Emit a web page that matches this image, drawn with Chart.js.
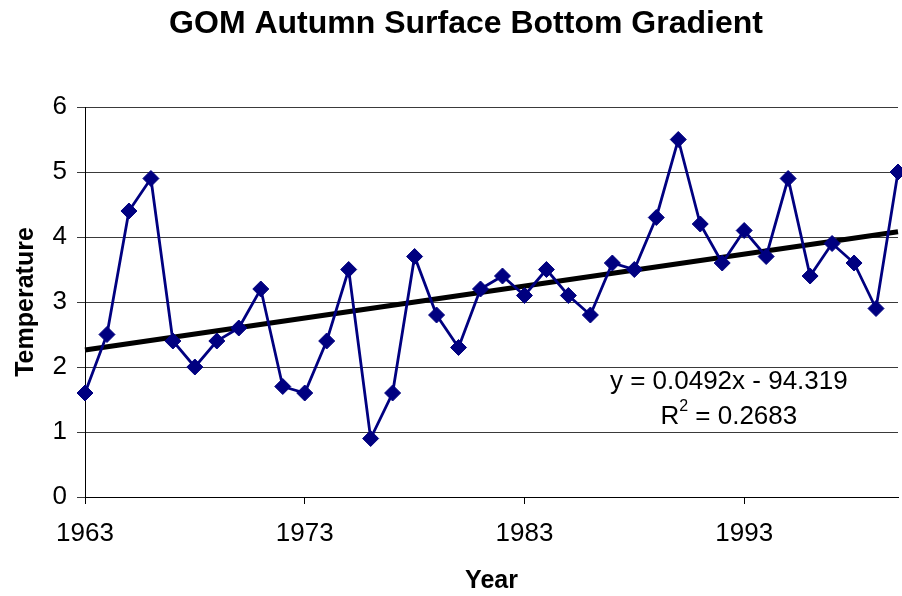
<!DOCTYPE html>
<html>
<head>
<meta charset="utf-8">
<title>GOM Autumn Surface Bottom Gradient</title>
<script src="https://cdn.jsdelivr.net/npm/chart.js@4/dist/chart.umd.min.js"></script>
<style>
  html, body { margin: 0; padding: 0; background: #ffffff; }
  #wrap { width: 902px; height: 596px; }
  canvas { display: block; }
</style>
</head>
<body>
<div id="wrap"><canvas id="chart" width="902" height="596"></canvas></div>
<script>
// Survey years and the autumn surface-minus-bottom temperature gradient
const years = [1963, 1964, 1965, 1966, 1967, 1968, 1969, 1970, 1971, 1972,
               1973, 1974, 1975, 1976, 1977, 1978, 1979, 1980, 1981, 1982,
               1983, 1984, 1985, 1986, 1987, 1988, 1989, 1990, 1991, 1992,
               1993, 1994, 1995, 1996, 1997, 1998, 1999, 2000];
const gradient = [1.6, 2.5, 4.4, 4.9, 2.4, 2.0, 2.4, 2.6, 3.2, 1.7,
                  1.6, 2.4, 3.5, 0.9, 1.6, 3.7, 2.8, 2.3, 3.2, 3.4,
                  3.1, 3.5, 3.1, 2.8, 3.6, 3.5, 4.3, 5.5, 4.2, 3.6,
                  4.1, 3.7, 4.9, 3.4, 3.9, 3.6, 2.9, 5.0];

// Linear trend as reported: y = 0.0492x - 94.319, R^2 = 0.2683
const trendSlope = 0.0492;
const trendIntercept = -94.319;
const trendR2 = '0.2683';

// Axis ticks
const xTickYears = [1963, 1973, 1983, 1993];
const yTickValues = [0, 1, 2, 3, 4, 5, 6];

const chartTitle = 'GOM Autumn Surface Bottom Gradient';
const xAxisTitle = 'Year';
const yAxisTitle = 'Temperature';

const FONT = "'Liberation Sans', Arial, Helvetica, sans-serif";

const seriesPoints = years.map((yr, i) => ({ x: yr, y: gradient[i] }));
const trendStart = years[0];
const trendEnd = years[years.length - 1];
const trendPoints = [
  { x: trendStart, y: trendSlope * trendStart + trendIntercept },
  { x: trendEnd,   y: trendSlope * trendEnd + trendIntercept }
];

// Chart heading, drawn above the plot
const headingPlugin = {
  id: 'heading',
  afterDraw(chart, args, opts) {
    const ctx = chart.ctx;
    ctx.save();
    ctx.fillStyle = '#000';
    ctx.font = 'bold ' + opts.size + 'px ' + FONT;
    ctx.textAlign = 'center';
    ctx.textBaseline = 'middle';
    ctx.fillText(opts.text, opts.x, opts.y);
    ctx.restore();
  }
};

// Regression equation and R-squared, placed in data coordinates
const equationPlugin = {
  id: 'equation',
  afterDatasetsDraw(chart, args, opts) {
    const ctx = chart.ctx;
    const xs = chart.scales.x, ys = chart.scales.y;
    const cx = xs.getPixelForValue(opts.atX);
    const y1 = ys.getPixelForValue(opts.line1Y);
    const y2 = ys.getPixelForValue(opts.line2Y);
    const size = opts.size;
    ctx.save();
    ctx.fillStyle = '#000';
    ctx.textBaseline = 'middle';
    ctx.font = size + 'px ' + FONT;
    const sign = trendIntercept < 0 ? ' - ' : ' + ';
    const eq = 'y = ' + trendSlope + 'x' + sign + Math.abs(trendIntercept);
    ctx.textAlign = 'center';
    ctx.fillText(eq, cx, y1);

    // R² with a raised, smaller exponent
    const supSize = Math.round(size * 0.62);
    ctx.font = size + 'px ' + FONT;
    const wR = ctx.measureText('R').width;
    const wRest = ctx.measureText(' = ' + trendR2).width;
    ctx.font = supSize + 'px ' + FONT;
    const wSup = ctx.measureText('2').width;
    let x0 = cx - (wR + wSup + wRest) / 2;
    ctx.textAlign = 'left';
    ctx.font = size + 'px ' + FONT;
    ctx.fillText('R', x0, y2);
    ctx.font = supSize + 'px ' + FONT;
    ctx.fillText('2', x0 + wR, y2 - size * 0.38);
    ctx.font = size + 'px ' + FONT;
    ctx.fillText(' = ' + trendR2, x0 + wR + wSup, y2);
    ctx.restore();
  }
};

new Chart(document.getElementById('chart'), {
  type: 'line',
  data: {
    datasets: [
      {
        label: 'Gradient',
        data: seriesPoints,
        borderColor: '#000080',
        backgroundColor: '#000080',
        borderWidth: 2.8,
        tension: 0,
        pointStyle: 'rectRot',
        pointRadius: 8,
        pointBorderWidth: 1,
        pointBorderColor: '#000080',
        pointBackgroundColor: '#000080',
        clip: false
      },
      {
        label: 'Linear trend',
        data: trendPoints,
        borderColor: '#000000',
        borderWidth: 5,
        pointRadius: 0,
        tension: 0,
        clip: false
      }
    ]
  },
  options: {
    responsive: false,
    animation: false,
    devicePixelRatio: 1,
    events: [],
    layout: { autoPadding: false, padding: { top: 107, right: 4, bottom: 0, left: 0 } },
    plugins: {
      legend: { display: false },
      tooltip: { enabled: false },
      title: { display: false },
      heading: { text: chartTitle, x: 466, y: 24, size: 32 },
      equation: { atX: 1992.3, line1Y: 1.77, line2Y: 1.24, size: 26 }
    },
    scales: {
      x: {
        type: 'linear',
        min: years[0],
        max: years[years.length - 1],
        afterBuildTicks(scale) {
          scale.ticks = xTickYears.map(v => ({ value: v }));
        },
        afterFit(scale) {
          scale.height = 99;
          scale.paddingLeft = 0;
          scale.paddingRight = 0;
        },
        ticks: {
          color: '#000',
          font: { family: FONT, size: 26 },
          padding: 14,
          maxRotation: 0,
          autoSkip: false,
          callback: v => String(v)
        },
        grid: {
          drawOnChartArea: false,
          drawTicks: true,
          tickLength: 7,
          color: '#000',
          lineWidth: 1
        },
        border: { display: true, color: '#000', width: 1 },
        title: {
          display: true,
          text: xAxisTitle,
          color: '#000',
          font: { family: FONT, size: 25, weight: 'bold' },
          padding: { top: 0, bottom: 0 }
        }
      },
      y: {
        type: 'linear',
        min: yTickValues[0],
        max: yTickValues[yTickValues.length - 1],
        afterBuildTicks(scale) {
          scale.ticks = yTickValues.map(v => ({ value: v }));
        },
        afterFit(scale) { scale.width = 85; },
        ticks: {
          color: '#000',
          font: { family: FONT, size: 26 },
          padding: 10,
          callback: v => String(v)
        },
        grid: {
          drawOnChartArea: true,
          drawTicks: true,
          tickLength: 8,
          color: '#3a3a3a',
          lineWidth: 1
        },
        border: { display: true, color: '#000', width: 1 },
        title: {
          display: true,
          text: yAxisTitle,
          color: '#000',
          font: { family: FONT, size: 25, weight: 'bold' },
          padding: { top: 11, bottom: 0 }
        }
      }
    }
  },
  plugins: [headingPlugin, equationPlugin]
});
</script>
</body>
</html>
